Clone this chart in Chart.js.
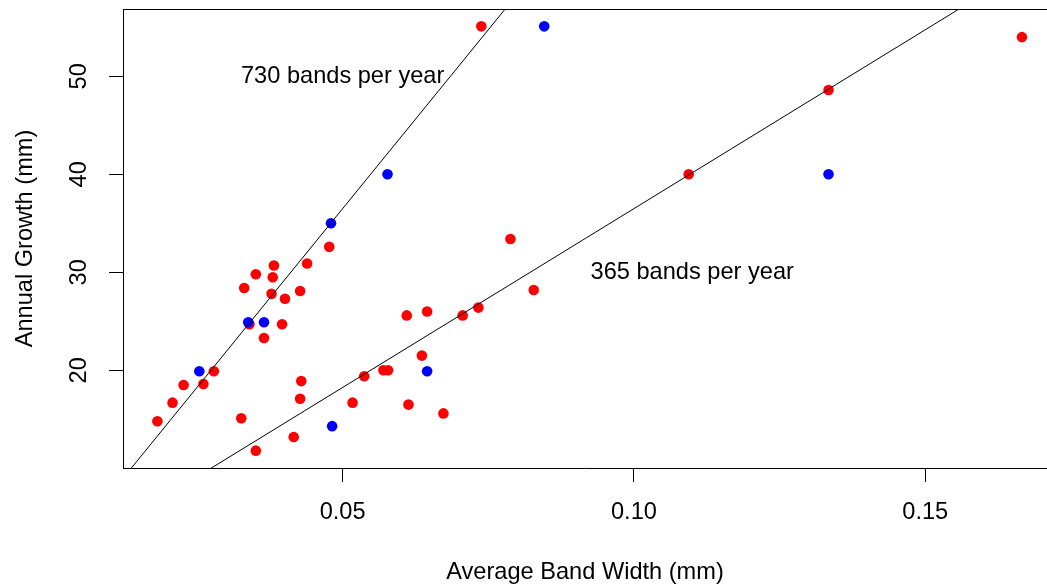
<!DOCTYPE html>
<html>
<head>
<meta charset="utf-8">
<script src="https://cdn.jsdelivr.net/npm/chart.js@4.4.1/dist/chart.umd.min.js"></script>
<style>
html,body{margin:0;padding:0;background:#fff;}
canvas{display:block;}
</style>
</head>
<body>
<canvas id="c" width="1047" height="588"></canvas>
<script>
// ---- data ----
const redX = [0.0477,0.0439,0.0382,0.0351,0.0380,0.0331,0.0378,0.0427,0.0401,0.0340,0.0396,0.0365,0.0279,0.0227,0.0261,0.0208,0.0182,0.0429,0.0427,0.0326,0.0351,0.0416,0.0517,0.0537,0.0610,0.0645,0.0706,0.0733,0.0636,0.0570,0.0578,0.0613,0.0673,0.0738,0.1334,0.1094,0.1666,0.0788,0.0828];
const redY = [32.6,30.9,30.7,29.8,29.5,28.4,27.8,28.1,27.3,24.7,24.7,23.3,19.9,18.5,18.6,16.7,14.8,18.9,17.1,15.1,11.8,13.2,16.7,19.4,25.6,26.0,25.6,26.4,21.5,20.0,20.0,16.5,15.6,55.1,48.6,40.0,54.0,33.4,28.2];
const blueX = [0.0480,0.0338,0.0365,0.0254,0.0482,0.0645,0.0846,0.1334,0.0577];
const blueY = [35.0,24.9,24.9,19.9,14.3,19.9,55.1,40.0,40.0];
const bandsPerYear = [730, 365];
const lineLabels = ["730 bands per year", "365 bands per year"];
const labelX = [0.05, 0.11];
const labelY = [50, 30];
const xTicks = [0.05, 0.10, 0.15];
const yTicks = [20, 30, 40, 50];
const xRange = [0.0123, 0.1709];
const yRange = [10.03, 56.87];
const xTitle = "Average Band Width (mm)";
const yTitle = "Annual Growth (mm)";

const FONT = "'Liberation Sans', Arial, sans-serif";
const FS = 23.6;

const toPts = (xs, ys) => xs.map((x, i) => ({x: x, y: ys[i]}));

const lineSets = bandsPerYear.map(k => ({
  type: 'line',
  data: [{x: xRange[0], y: k * xRange[0]}, {x: xRange[1], y: k * xRange[1]}],
  borderColor: '#000',
  borderWidth: 1,
  pointRadius: 0,
  fill: false,
  order: -1
}));

const noPad = s => { s.paddingTop = 0; s.paddingBottom = 0; s.paddingLeft = 0; s.paddingRight = 0; };

const annotate = {
  id: 'annotate',
  afterDatasetsDraw(chart) {
    const {ctx, chartArea, scales} = chart;
    ctx.save();
    // top frame line
    ctx.strokeStyle = '#000';
    ctx.lineWidth = 1;
    ctx.beginPath();
    ctx.moveTo(chartArea.left, Math.round(chartArea.top) + 0.5);
    ctx.lineTo(chartArea.right, Math.round(chartArea.top) + 0.5);
    ctx.stroke();
    ctx.fillStyle = '#000';
    ctx.font = FS + 'px ' + FONT;
    ctx.textAlign = 'center';
    ctx.textBaseline = 'middle';
    lineLabels.forEach((t, i) => {
      ctx.fillText(t, scales.x.getPixelForValue(labelX[i]), scales.y.getPixelForValue(labelY[i]));
    });
    ctx.restore();
  }
};

new Chart(document.getElementById('c'), {
  type: 'scatter',
  data: {
    datasets: [
      {data: toPts(blueX, blueY), backgroundColor: '#0000FF', borderColor: '#0000FF', pointRadius: 5.3, pointBorderWidth: 0, order: 0},
      {data: toPts(redX, redY), backgroundColor: '#FF0000', borderColor: '#FF0000', pointRadius: 5.3, pointBorderWidth: 0, order: 1},
      ...lineSets
    ]
  },
  options: {
    responsive: false,
    animation: false,
    layout: {autoPadding: false, padding: {top: 9, right: 0, left: 0, bottom: 0}},
    plugins: {legend: {display: false}, tooltip: {enabled: false}},
    scales: {
      x: {
        type: 'linear',
        min: xRange[0], max: xRange[1],
        afterBuildTicks: s => { s.ticks = xTicks.map(v => ({value: v})); },
        afterFit: s => { s.height = 120; noPad(s); },
        grid: {drawOnChartArea: false, drawTicks: true, tickLength: 14, color: '#000', tickWidth: 1},
        border: {display: true, color: '#000', width: 1},
        ticks: {color: '#000', font: {family: FONT, size: FS}, padding: 16, maxRotation: 0, callback: v => Number(v).toFixed(2)},
        title: {display: true, text: xTitle, color: '#000', font: {family: FONT, size: FS}, padding: {top: 0, bottom: 1}}
      },
      y: {
        type: 'linear',
        min: yRange[0], max: yRange[1],
        afterBuildTicks: s => { s.ticks = yTicks.map(v => ({value: v})); },
        afterFit: s => { s.width = 123; noPad(s); },
        grid: {drawOnChartArea: false, drawTicks: true, tickLength: 14, color: '#000', tickWidth: 1},
        border: {display: true, color: '#000', width: 1},
        ticks: {color: '#000', font: {family: FONT, size: FS}, padding: 16, minRotation: 90, maxRotation: 90, crossAlign: 'center', callback: v => String(v)},
        title: {display: true, text: yTitle, color: '#000', font: {family: FONT, size: FS}, padding: {top: 11, bottom: 0}}
      }
    }
  },
  plugins: [annotate]
});
</script>
</body>
</html>
